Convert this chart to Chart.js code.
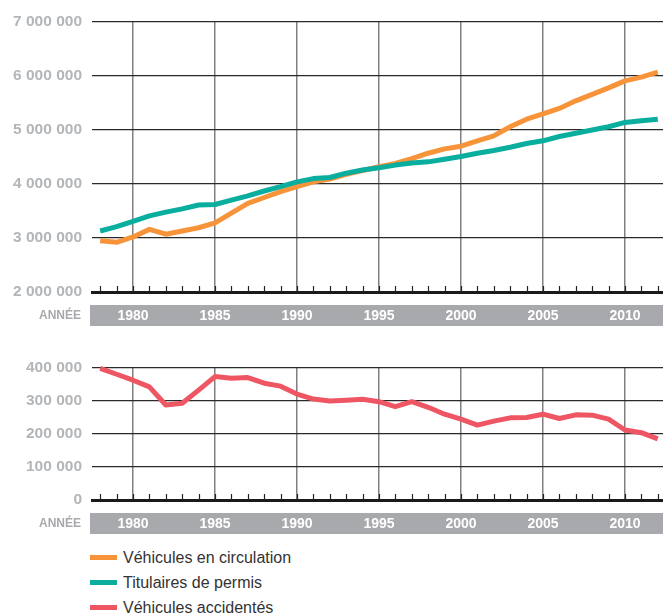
<!DOCTYPE html>
<html>
<head>
<meta charset="utf-8">
<script src="https://cdn.jsdelivr.net/npm/chart.js@4/dist/chart.umd.min.js"></script>
<style>
  html, body { margin: 0; padding: 0; background: #fff; }
  body { width: 663px; height: 614px; overflow: hidden; position: relative; font-family: 'Liberation Sans', Arial, sans-serif; }
  #c1 { position: absolute; left: 0; top: 0; }
  #c2 { position: absolute; left: 0; top: 340px; }
  #legend { position: absolute; left: 90px; top: 545px; }
  .item { height: 25px; display: flex; align-items: center; font-size: 16px; color: #333; }
  .sw { width: 27px; height: 5px; margin-right: 6px; }
</style>
</head>
<body>
<canvas id="c1" width="663" height="340"></canvas>
<canvas id="c2" width="663" height="200"></canvas>
<div id="legend"></div>
<script>
const years = [1978,1979,1980,1981,1982,1983,1984,1985,1986,1987,1988,1989,1990,1991,1992,1993,1994,1995,1996,1997,1998,1999,2000,2001,2002,2003,2004,2005,2006,2007,2008,2009,2010,2011,2012];
const majorYears = [1980,1985,1990,1995,2000,2005,2010];
const vehiculesCirculation = [2950000,2920000,3020000,3160000,3070000,3130000,3190000,3280000,3460000,3640000,3750000,3860000,3950000,4040000,4090000,4180000,4250000,4320000,4380000,4470000,4570000,4650000,4700000,4800000,4890000,5060000,5200000,5300000,5400000,5540000,5660000,5780000,5910000,5980000,6070000];
const titulairesPermis = [3130000,3210000,3310000,3410000,3480000,3540000,3610000,3620000,3700000,3780000,3870000,3950000,4040000,4100000,4120000,4200000,4260000,4300000,4350000,4390000,4410000,4460000,4510000,4570000,4620000,4680000,4750000,4800000,4880000,4940000,5000000,5060000,5140000,5170000,5200000];
const vehiculesAccidentes = [399000,381000,363000,343000,288000,293000,333000,374000,369000,371000,354000,345000,321000,306000,300000,302000,305000,298000,283000,298000,281000,260000,245000,227000,239000,249000,250000,260000,247000,258000,257000,245000,212000,204000,185000];
const topTicks = [2000000,3000000,4000000,5000000,6000000,7000000];
const bottomTicks = [0,100000,200000,300000,400000];
const seriesNames = ['Véhicules en circulation','Titulaires de permis','Véhicules accidentés'];
const seriesColors = ['#f7943a','#0aae9f','#ef5663'];
const axisWord = 'ANNÉE';

const fmt = v => String(v).replace(/\B(?=(\d{3})+(?!\d))/g, ' ');
const sans = "'Liberation Sans', Arial, sans-serif";

const decor = {
  id: 'decor',
  beforeDraw(chart) {
    const ctx = chart.ctx, a = chart.chartArea;
    ctx.save();
    ctx.fillStyle = '#fff';
    ctx.fillRect(0, 0, chart.width, chart.height);
    ctx.fillStyle = '#a7a9ac';
    ctx.fillRect(90, a.bottom + 13, chart.width - 90, 21);
    ctx.fillStyle = '#a7a9ac';
    ctx.font = "bold 12px " + sans;
    ctx.textAlign = 'right';
    ctx.textBaseline = 'middle';
    ctx.fillText(axisWord, 81, a.bottom + 23.5);
    ctx.restore();
  },
  beforeDatasetsDraw(chart) {
    const ctx = chart.ctx, a = chart.chartArea, xs = chart.scales.x;
    ctx.save();
    ctx.strokeStyle = '#222';
    ctx.lineWidth = 1.2;
    years.forEach(y => {
      const px = Math.round(xs.getPixelForValue(y)) + 0.5;
      ctx.beginPath();
      ctx.moveTo(px, a.bottom - 6);
      ctx.lineTo(px, a.bottom);
      ctx.stroke();
    });
    ctx.restore();
  }
};

function makeChart(id, datasets, ticks, topPad, chartBottom, canvasH) {
  const ymin = ticks[0], ymax = ticks[ticks.length - 1];
  return new Chart(document.getElementById(id), {
    type: 'line',
    data: { datasets },
    options: {
      responsive: false,
      animation: false,
      events: [],
      layout: { padding: { top: topPad, right: 0, bottom: 0, left: 0 } },
      plugins: { legend: { display: false }, tooltip: { enabled: false } },
      elements: { point: { radius: 0 }, line: { tension: 0, borderWidth: 5, borderCapStyle: 'butt', borderJoinStyle: 'round' } },
      scales: {
        x: {
          type: 'linear',
          min: 1977.5,
          max: 2012.32,
          afterBuildTicks(s) { s.ticks = majorYears.map(v => ({ value: v })); },
          afterFit(s) { s.height = canvasH - chartBottom; },
          grid: { color: '#808080', lineWidth: 1.5, drawTicks: false },
          border: { display: true, color: '#1a1a1a', width: 3 },
          ticks: {
            color: '#ffffff',
            padding: 16,
            maxRotation: 0,
            autoSkip: false,
            font: { family: sans, size: 14, weight: 'bold' },
            callback: v => String(v)
          }
        },
        y: {
          min: ymin,
          max: ymax,
          afterBuildTicks(s) { s.ticks = ticks.map(v => ({ value: v })); },
          afterFit(s) { s.width = 92; },
          grid: {
            color: '#2a2a2a',
            lineWidth: c => (c.tick && c.tick.value === ymin) ? 0 : 1.3,
            drawTicks: false
          },
          border: { display: false },
          ticks: {
            color: '#b3b6b9',
            padding: 10,
            font: { family: sans, size: 15.5, weight: 'bold' },
            callback: v => fmt(v)
          }
        }
      }
    },
    plugins: [decor]
  });
}

const pts = arr => years.map((y, i) => ({ x: y, y: arr[i] }));

makeChart('c1', [
  { label: seriesNames[1], data: pts(titulairesPermis), borderColor: seriesColors[1], clip: false },
  { label: seriesNames[0], data: pts(vehiculesCirculation), borderColor: seriesColors[0], clip: false }
], topTicks, 22, 292, 340);

makeChart('c2', [
  { label: seriesNames[2], data: pts(vehiculesAccidentes), borderColor: seriesColors[2], clip: false }
], bottomTicks, 28, 160, 200);

const lg = document.getElementById('legend');
seriesNames.forEach((n, i) => {
  const d = document.createElement('div');
  d.className = 'item';
  const s = document.createElement('span');
  s.className = 'sw';
  s.style.background = seriesColors[i];
  const t = document.createElement('span');
  t.textContent = n;
  d.appendChild(s); d.appendChild(t);
  lg.appendChild(d);
});
</script>
</body>
</html>
